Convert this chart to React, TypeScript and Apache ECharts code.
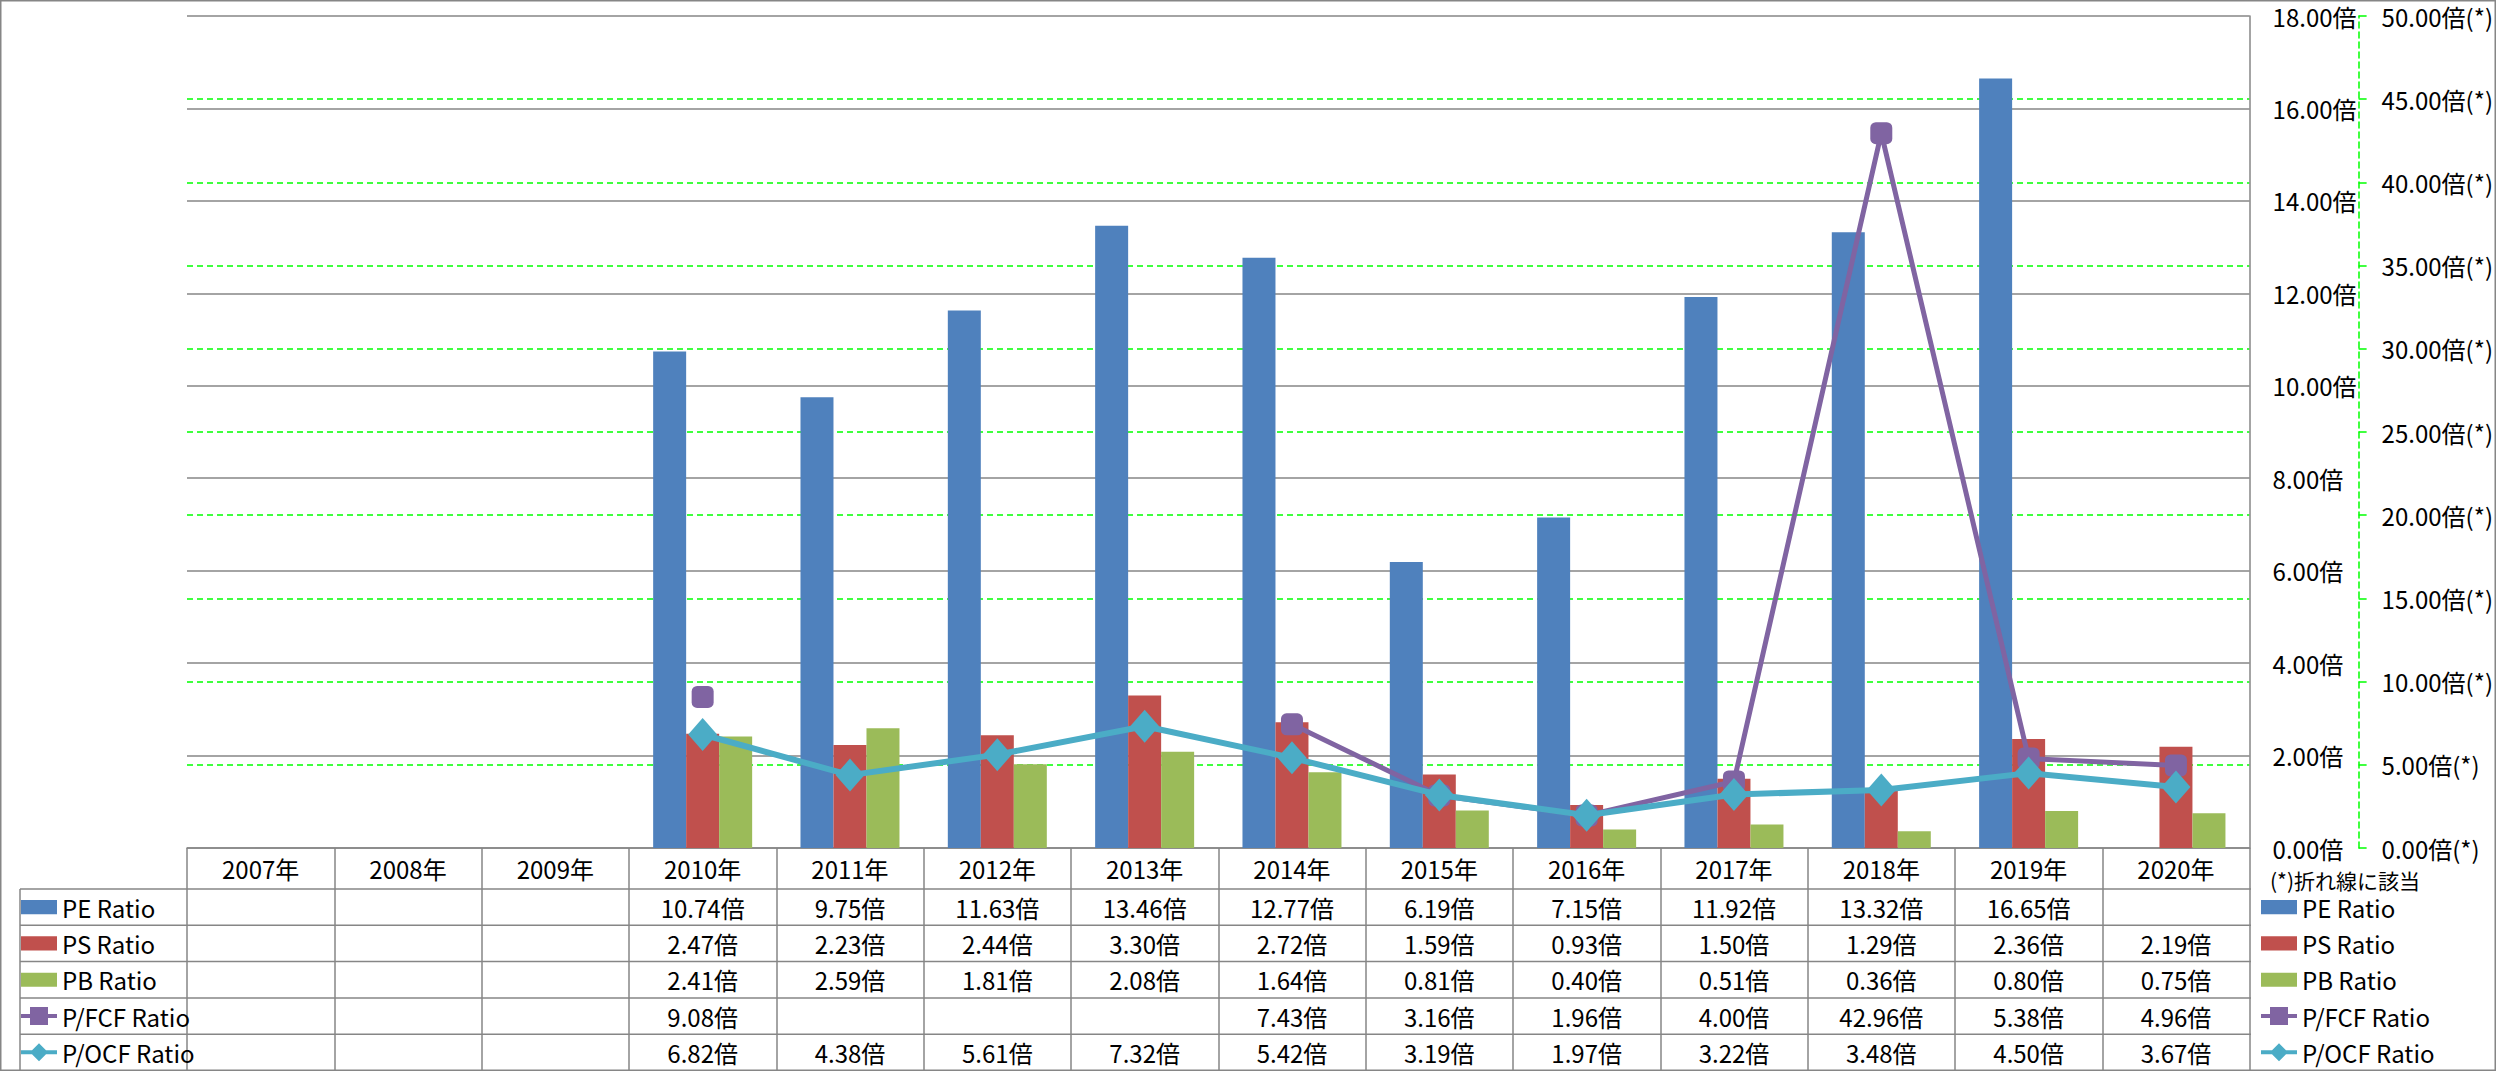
import React, { useEffect, useRef } from "react";
import * as echarts from "echarts";

const years = ["2007年", "2008年", "2009年", "2010年", "2011年", "2012年", "2013年", "2014年", "2015年", "2016年", "2017年", "2018年", "2019年", "2020年"];
const peRatio = [null, null, null, 10.74, 9.75, 11.63, 13.46, 12.77, 6.19, 7.15, 11.92, 13.32, 16.65, null];
const psRatio = [null, null, null, 2.47, 2.23, 2.44, 3.3, 2.72, 1.59, 0.93, 1.5, 1.29, 2.36, 2.19];
const pbRatio = [null, null, null, 2.41, 2.59, 1.81, 2.08, 1.64, 0.81, 0.4, 0.51, 0.36, 0.8, 0.75];
const pfcfRatio = [null, null, null, 9.08, null, null, null, 7.43, 3.16, 1.96, 4.0, 42.96, 5.38, 4.96];
const pocfRatio = [null, null, null, 6.82, 4.38, 5.61, 7.32, 5.42, 3.19, 1.97, 3.22, 3.48, 4.5, 3.67];
const seriesNames = ["PE Ratio", "PS Ratio", "PB Ratio", "P/FCF Ratio", "P/OCF Ratio"];
const unitLeft = "倍";
const unitRight = "倍(*)";
const noteText = "(*)折れ線に該当";

const COLORS = ["#4F81BD", "#C0504D", "#9BBB59", "#8064A2", "#4BACC6"];
const GREY = "#868686";
const GREEN = "#00FF00";
const FONT = "'Noto Sans CJK JP', 'Noto Sans', sans-serif";

const W = 2496;
const H = 1071;
const GRID_L = 187;
const GRID_T = 16;
const GRID_W = 2064;
const GRID_H = 832;
const GRID_B = GRID_T + GRID_H;
const HEADER_H = 41;
const ROW_H = 36.3;

const fmt = (v: number | null, u: string) => (v == null ? "" : v.toFixed(2) + u);

const ICONS = {
  bar: "path://M0,0 L33,0 L33,13 L0,13 Z",
  square: "path://M0,7 L9,7 L9,0 L27,0 L27,7 L36,7 L36,11 L27,11 L27,18 L9,18 L9,11 L0,11 Z",
  diamond: "path://M0,7 L11,7 L18,0 L25,7 L36,7 L36,11 L25,11 L18,18 L11,11 L0,11 Z",
};

export default function App() {
  const ref = useRef<HTMLDivElement>(null);
  useEffect(() => {
    document.body.style.margin = "0";
    if (!ref.current) return;
    const chart = echarts.init(ref.current, undefined, { renderer: "svg" });

    const rows = [peRatio, psRatio, pbRatio, pfcfRatio, pocfRatio];
    const rowCenters = rows.map((_, i) => GRID_B + HEADER_H + ROW_H * (i + 0.5));

    const tableAxes = rows.map((row, i) => ({
      type: "category",
      gridIndex: 0,
      position: "bottom",
      data: years,
      axisLine: { show: false },
      axisTick: { show: false },
      splitLine: { show: false },
      axisLabel: {
        interval: 0,
        margin: rowCenters[i] - GRID_B,
        verticalAlign: "middle",
        fontSize: 24,
        fontFamily: FONT,
        color: "#000",
        formatter: (_v: string, idx: number) => fmt(row[idx], unitLeft),
      },
    }));

    const legendData = [
      { name: seriesNames[0], icon: ICONS.bar },
      { name: seriesNames[1], icon: ICONS.bar },
      { name: seriesNames[2], icon: ICONS.bar },
      { name: seriesNames[3], icon: ICONS.square },
      { name: seriesNames[4], icon: ICONS.diamond },
    ];
    const legendBase = {
      orient: "vertical",
      top: GRID_B + HEADER_H + ROW_H / 2 - 12,
      padding: 0,
      itemWidth: 36,
      itemHeight: 18,
      itemGap: ROW_H - 24,
      selectedMode: false,
      data: legendData,
      textStyle: { fontSize: 24, lineHeight: 24, fontFamily: FONT, color: "#000", padding: [0, 0, 0, 0] },
    };

    const rowLines = rows.map((_, i) => ({
      type: "line",
      shape: { x1: 20, y1: GRID_B + HEADER_H + ROW_H * i, x2: GRID_L + GRID_W, y2: GRID_B + HEADER_H + ROW_H * i },
      style: { stroke: GREY, lineWidth: 1.5 },
      silent: true,
    }));

    chart.setOption({
      animation: false,
      backgroundColor: "#fff",
      textStyle: { fontFamily: FONT },
      grid: { left: GRID_L, top: GRID_T, width: GRID_W, height: GRID_H },
      legend: [
        { ...legendBase, left: 21 },
        { ...legendBase, left: 2261 },
      ],
      xAxis: [
        {
          type: "category",
          gridIndex: 0,
          position: "bottom",
          data: years,
          axisLine: { show: true, lineStyle: { color: GREY, width: 1.5 } },
          axisTick: { show: true, length: H - GRID_B, lineStyle: { color: GREY, width: 1.5 } },
          splitLine: { show: false },
          axisLabel: { interval: 0, margin: HEADER_H / 2, verticalAlign: "middle", fontSize: 24, fontFamily: FONT, color: "#000" },
        },
        ...tableAxes,
      ],
      yAxis: [
        {
          type: "value",
          position: "right",
          min: 0,
          max: 18,
          interval: 2,
          axisLine: { show: true, lineStyle: { color: GREY, width: 1.5 } },
          axisTick: { show: false },
          splitLine: { show: true, lineStyle: { color: GREY, width: 1.5 } },
          axisLabel: {
            margin: 23,
            fontSize: 24,
            lineHeight: 24,
            fontFamily: FONT,
            color: "#000",
            formatter: (v: number) => v.toFixed(2) + unitLeft,
          },
        },
        {
          type: "value",
          position: "right",
          offset: 109,
          min: 0,
          max: 50,
          interval: 5,
          axisLine: { show: true, lineStyle: { color: GREEN, type: [6, 4], width: 1.5 } },
          axisTick: { show: true, length: 8, lineStyle: { color: GREEN, width: 1.5 } },
          splitLine: { show: true, showMaxLine: false, showMinLine: false, lineStyle: { color: GREEN, type: [6, 4], width: 1.5 } },
          axisLabel: {
            margin: 23,
            fontSize: 24,
            lineHeight: 24,
            fontFamily: FONT,
            color: "#000",
            formatter: (v: number) => v.toFixed(2) + unitRight,
          },
        },
      ],
      series: [
        { name: seriesNames[0], type: "bar", yAxisIndex: 0, data: peRatio, barWidth: 33, barGap: "0%", itemStyle: { color: COLORS[0] } },
        { name: seriesNames[1], type: "bar", yAxisIndex: 0, data: psRatio, barWidth: 33, barGap: "0%", itemStyle: { color: COLORS[1] } },
        { name: seriesNames[2], type: "bar", yAxisIndex: 0, data: pbRatio, barWidth: 33, barGap: "0%", itemStyle: { color: COLORS[2] } },
        {
          name: seriesNames[3],
          type: "line",
          yAxisIndex: 1,
          data: pfcfRatio,
          connectNulls: false,
          symbol: "roundRect",
          symbolSize: 22,
          showAllSymbol: true,
          lineStyle: { color: COLORS[3], width: 5 },
          itemStyle: { color: COLORS[3] },
          z: 3,
        },
        {
          name: seriesNames[4],
          type: "line",
          yAxisIndex: 1,
          data: pocfRatio,
          connectNulls: false,
          symbol: "diamond",
          symbolSize: [29, 33],
          showAllSymbol: true,
          lineStyle: { color: COLORS[4], width: 6 },
          itemStyle: { color: COLORS[4] },
          z: 4,
        },
      ],
      graphic: [
        {
          type: "rect",
          shape: { x: 0.75, y: 0.75, width: W - 1.5, height: H - 1.5 },
          style: { fill: "none", stroke: GREY, lineWidth: 1.5 },
          silent: true,
          z: 0,
        },
        ...rowLines,
        {
          type: "line",
          shape: { x1: 20, y1: GRID_B + HEADER_H, x2: 20, y2: H },
          style: { stroke: GREY, lineWidth: 1.5 },
          silent: true,
        },
        {
          type: "text",
          x: 2270,
          y: GRID_B + HEADER_H / 2 + 11,
          style: { text: noteText, fontSize: 21, fontFamily: FONT, fill: "#000", verticalAlign: "middle" },
          silent: true,
        },
      ],
    });

    return () => chart.dispose();
  }, []);
  return <div ref={ref} style={{ width: W, height: H }} />;
}
